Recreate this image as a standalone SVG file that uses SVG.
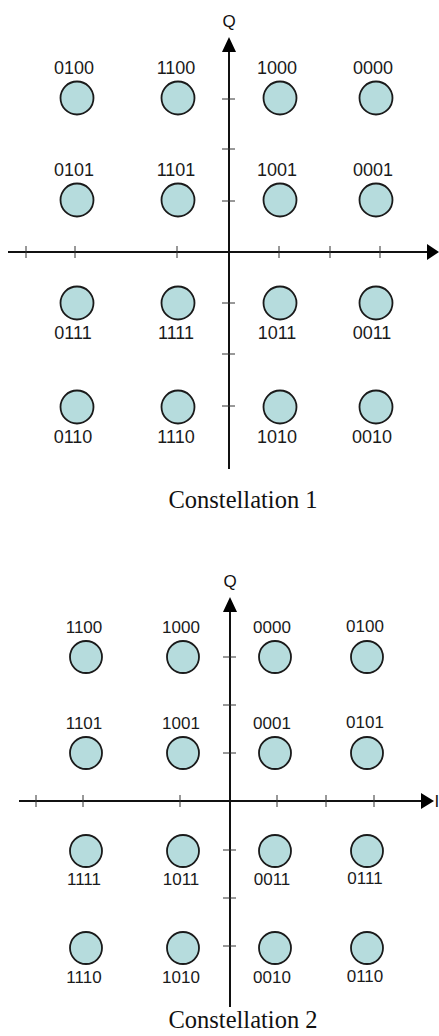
<svg xmlns="http://www.w3.org/2000/svg" width="439" height="1036" viewBox="0 0 439 1036">
  <style>
    .axis { stroke: #111; stroke-width: 2; fill: none; }
    .tick { stroke: #333; stroke-width: 1; }
    .pt { fill: #b6dcdd; stroke: #1a1a1a; stroke-width: 1.8; }
    .lbl { font-family: "Liberation Sans", Arial, sans-serif; fill: #1a1a1a; text-anchor: middle; }
    .c1 .lbl { font-size: 18px; }
    .c2 .lbl { font-size: 17px; }
    .axlbl { font-family: "Liberation Sans", Arial, sans-serif; font-size: 17px; fill: #111; text-anchor: middle; }
    .cap { font-family: "Liberation Serif", "Times New Roman", serif; font-size: 24.5px; fill: #111; text-anchor: middle; }
    .head { fill: #000; }
  </style>

  <!-- Constellation 1 -->
  <g id="constellation-1" class="c1">
    <g id="c1-axes">
      <line class="axis" x1="229" y1="50" x2="229" y2="469"/>
      <polygon class="head" points="229,37 222,52 236,52"/>
      <line class="axis" x1="8" y1="252" x2="429" y2="252"/>
      <polygon class="head" points="439,252 427,244 427,260"/>
      <text class="axlbl" x="229" y="27">Q</text>
      <!-- ticks on I axis -->
      <line class="tick" x1="26" y1="246" x2="26" y2="258"/>
      <line class="tick" x1="75" y1="246" x2="75" y2="258"/>
      <line class="tick" x1="177" y1="246" x2="177" y2="258"/>
      <line class="tick" x1="279" y1="246" x2="279" y2="258"/>
      <line class="tick" x1="330" y1="246" x2="330" y2="258"/>
      <line class="tick" x1="380" y1="246" x2="380" y2="258"/>
      <!-- ticks on Q axis -->
      <line class="tick" x1="222" y1="99" x2="235" y2="99"/>
      <line class="tick" x1="222" y1="149" x2="235" y2="149"/>
      <line class="tick" x1="222" y1="201" x2="235" y2="201"/>
      <line class="tick" x1="222" y1="303" x2="235" y2="303"/>
      <line class="tick" x1="222" y1="354" x2="235" y2="354"/>
      <line class="tick" x1="222" y1="406" x2="235" y2="406"/>
    </g>
    <g id="c1-0100"><circle class="pt" cx="77" cy="98" r="16.5"/><text class="lbl" x="74" y="74">0100</text></g>
    <g id="c1-1100"><circle class="pt" cx="178" cy="98" r="16.5"/><text class="lbl" x="176" y="74">1100</text></g>
    <g id="c1-1000"><circle class="pt" cx="280" cy="98" r="16.5"/><text class="lbl" x="277" y="74">1000</text></g>
    <g id="c1-0000"><circle class="pt" cx="376" cy="98" r="16.5"/><text class="lbl" x="373" y="74">0000</text></g>
    <g id="c1-0101"><circle class="pt" cx="77" cy="200" r="16.5"/><text class="lbl" x="74" y="176">0101</text></g>
    <g id="c1-1101"><circle class="pt" cx="178" cy="200" r="16.5"/><text class="lbl" x="176" y="176">1101</text></g>
    <g id="c1-1001"><circle class="pt" cx="280" cy="200" r="16.5"/><text class="lbl" x="277" y="176">1001</text></g>
    <g id="c1-0001"><circle class="pt" cx="376" cy="200" r="16.5"/><text class="lbl" x="373" y="176">0001</text></g>
    <g id="c1-0111"><circle class="pt" cx="77" cy="303" r="16.5"/><text class="lbl" x="73" y="339">0111</text></g>
    <g id="c1-1111"><circle class="pt" cx="178" cy="303" r="16.5"/><text class="lbl" x="176" y="339">1111</text></g>
    <g id="c1-1011"><circle class="pt" cx="280" cy="303" r="16.5"/><text class="lbl" x="277" y="339">1011</text></g>
    <g id="c1-0011"><circle class="pt" cx="376" cy="303" r="16.5"/><text class="lbl" x="372" y="339">0011</text></g>
    <g id="c1-0110"><circle class="pt" cx="77" cy="407" r="16.5"/><text class="lbl" x="73" y="443">0110</text></g>
    <g id="c1-1110"><circle class="pt" cx="178" cy="407" r="16.5"/><text class="lbl" x="176" y="443">1110</text></g>
    <g id="c1-1010"><circle class="pt" cx="280" cy="407" r="16.5"/><text class="lbl" x="277" y="443">1010</text></g>
    <g id="c1-0010"><circle class="pt" cx="376" cy="407" r="16.5"/><text class="lbl" x="372" y="443">0010</text></g>
    <text class="cap" x="243" y="508">Constellation 1</text>
  </g>

  <!-- Constellation 2 -->
  <g id="constellation-2" class="c2">
    <g id="c2-axes">
      <line class="axis" x1="230" y1="610" x2="230" y2="1007"/>
      <polygon class="head" points="230,597 223,612 237,612"/>
      <line class="axis" x1="19" y1="801" x2="423" y2="801"/>
      <polygon class="head" points="434,801 421,793 421,809"/>
      <text class="axlbl" x="230" y="587">Q</text>
      <text class="axlbl" x="434.5" y="807" style="text-anchor:start">I</text>
      <!-- ticks on I axis -->
      <line class="tick" x1="36" y1="795" x2="36" y2="807"/>
      <line class="tick" x1="83" y1="795" x2="83" y2="807"/>
      <line class="tick" x1="180" y1="795" x2="180" y2="807"/>
      <line class="tick" x1="277" y1="795" x2="277" y2="807"/>
      <line class="tick" x1="326" y1="795" x2="326" y2="807"/>
      <line class="tick" x1="374" y1="795" x2="374" y2="807"/>
      <!-- ticks on Q axis -->
      <line class="tick" x1="223" y1="657" x2="236" y2="657"/>
      <line class="tick" x1="223" y1="705" x2="236" y2="705"/>
      <line class="tick" x1="223" y1="753" x2="236" y2="753"/>
      <line class="tick" x1="223" y1="850" x2="236" y2="850"/>
      <line class="tick" x1="223" y1="898" x2="236" y2="898"/>
      <line class="tick" x1="223" y1="946" x2="236" y2="946"/>
    </g>
    <g id="c2-1100"><circle class="pt" cx="86" cy="657" r="16"/><text class="lbl" x="84" y="633">1100</text></g>
    <g id="c2-1000"><circle class="pt" cx="183" cy="657" r="16"/><text class="lbl" x="181" y="633">1000</text></g>
    <g id="c2-0000"><circle class="pt" cx="275" cy="657" r="16"/><text class="lbl" x="272" y="633">0000</text></g>
    <g id="c2-0100"><circle class="pt" cx="367" cy="657" r="16"/><text class="lbl" x="365" y="632">0100</text></g>
    <g id="c2-1101"><circle class="pt" cx="86" cy="753" r="16"/><text class="lbl" x="84" y="729">1101</text></g>
    <g id="c2-1001"><circle class="pt" cx="183" cy="753" r="16"/><text class="lbl" x="181" y="729">1001</text></g>
    <g id="c2-0001"><circle class="pt" cx="275" cy="753" r="16"/><text class="lbl" x="272" y="729">0001</text></g>
    <g id="c2-0101"><circle class="pt" cx="367" cy="753" r="16"/><text class="lbl" x="365" y="728">0101</text></g>
    <g id="c2-1111"><circle class="pt" cx="86" cy="851" r="16"/><text class="lbl" x="84" y="885">1111</text></g>
    <g id="c2-1011"><circle class="pt" cx="183" cy="851" r="16"/><text class="lbl" x="181" y="885">1011</text></g>
    <g id="c2-0011"><circle class="pt" cx="275" cy="851" r="16"/><text class="lbl" x="272" y="885">0011</text></g>
    <g id="c2-0111"><circle class="pt" cx="367" cy="851" r="16"/><text class="lbl" x="365" y="884">0111</text></g>
    <g id="c2-1110"><circle class="pt" cx="86" cy="948" r="16"/><text class="lbl" x="84" y="983">1110</text></g>
    <g id="c2-1010"><circle class="pt" cx="183" cy="948" r="16"/><text class="lbl" x="181" y="983">1010</text></g>
    <g id="c2-0010"><circle class="pt" cx="275" cy="948" r="16"/><text class="lbl" x="272" y="983">0010</text></g>
    <g id="c2-0110"><circle class="pt" cx="367" cy="948" r="16"/><text class="lbl" x="365" y="982">0110</text></g>
    <text class="cap" x="243" y="1028">Constellation 2</text>
  </g>
</svg>
